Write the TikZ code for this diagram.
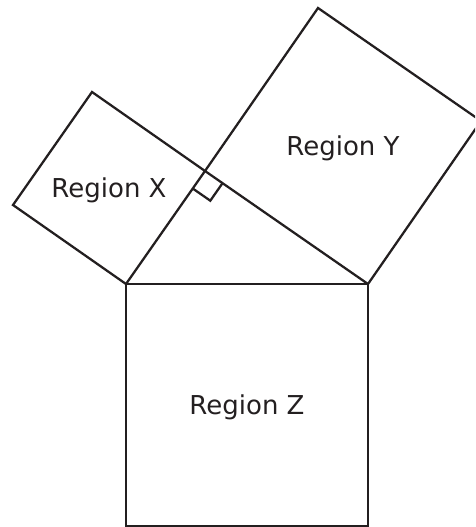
\documentclass[tikz,border=0pt]{standalone}
\usepackage{fontspec}
\setmainfont{DejaVu Sans}
\usepackage{tikz}

\definecolor{inkgray}{RGB}{35,31,32}
\tikzset{
  edge/.style={draw=inkgray, line width=1.7pt, line join=miter},
  regionlabel/.style={anchor=center, inner sep=0.75pt, text=inkgray, font=\fontsize{19.5}{23}\selectfont}
}

\begin{document}
\begin{tikzpicture}[x=0.75pt,y=0.75pt,yscale=-1,xscale=1]
\useasboundingbox (0,0) rectangle (475,527);
\clip (0,0) rectangle (475,527);

% triangle corners
\coordinate (A) at (126,284);
\coordinate (B) at (368,284);
\coordinate (C) at (205,171);
% outer corners of the squares
\coordinate (X1) at (13,205);
\coordinate (X2) at (92,92);
\coordinate (Y1) at (318,8);
\coordinate (Y2) at (481,121);
\coordinate (Z1) at (368,526);
\coordinate (Z2) at (126,526);
% right angle mark
\coordinate (M1) at (193,188.7);
\coordinate (M2) at (210.3,200.7);
\coordinate (M3) at (222.3,183.5);

%Shape: Square X
\draw [edge] (A) -- (X1) -- (X2) -- (C) -- cycle ;
%Shape: Square Y
\draw [edge] (C) -- (Y1) -- (Y2) -- (B) -- cycle ;
%Shape: Square Z
\draw [edge] (A) -- (B) -- (Z1) -- (Z2) -- cycle ;
%Straight Lines: right angle
\draw [edge] (M1) -- (M2) -- (M3) ;

% Text Node
\node (regX) [regionlabel] at (109,190) {Region X};
% Text Node
\node (regY) [regionlabel] at (343,148) {Region Y};
% Text Node
\node (regZ) [regionlabel] at (247,407) {Region Z};

\end{tikzpicture}
\end{document}
